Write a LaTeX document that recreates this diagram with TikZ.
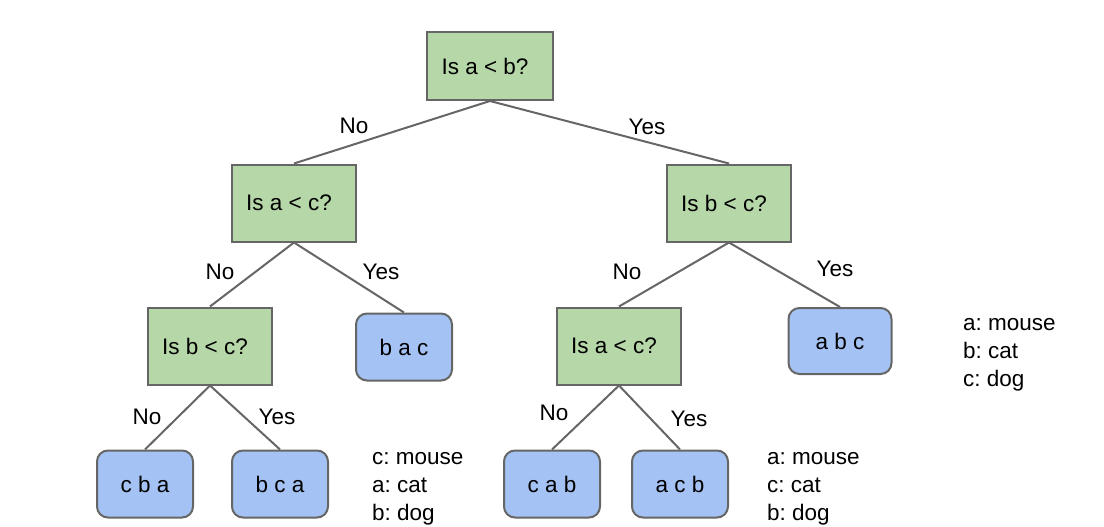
\documentclass[tikz,border=0pt]{standalone}
\usepackage{fontspec}
\setmainfont{Liberation Sans}
\definecolor{qgreen}{HTML}{B6D7A8}
\definecolor{qblue}{HTML}{A4C2F4}
\definecolor{edgegray}{HTML}{666666}
\frenchspacing
\begin{document}
\begin{tikzpicture}[x=1pt,y=-1pt,
  every node/.style={font=\fontsize{22.5}{28}\selectfont},
  qbox/.style={draw=edgegray,line width=2pt,fill=qgreen,minimum width=124pt,minimum height=77pt,inner sep=0pt,execute at end node={\hspace{10pt}}},
  leaf/.style={draw=edgegray,line width=2pt,fill=qblue,rounded corners=11pt,minimum width=96pt,minimum height=67pt,inner sep=0pt},
  conn/.style={draw=edgegray,line width=2pt},
  lbl/.style={inner sep=0pt},
  legend/.style={align=left,anchor=north west,inner sep=0pt}]
\useasboundingbox (0,0) rectangle (1104,527);
\node[qbox,minimum width=126pt,minimum height=68pt] (root) at (490,66) {Is a < b?};
\node[qbox] (ac1) at (294,203) {Is a < c?};
\node[qbox] (bc1) at (729,203) {Is b < c?};
\node[qbox] (bc2) at (210,346) {Is b < c?};
\node[leaf] (bac) at (404,347) {b a c};
\node[qbox] (ac2) at (619,346) {Is a < c?};
\node[leaf,minimum width=103pt,minimum height=66pt] (abc) at (840,341) {a b c};
\node[leaf] (cba) at (145,484) {c b a};
\node[leaf] (bca) at (280,484) {b c a};
\node[leaf] (cab) at (552,484) {c a b};
\node[leaf] (acb) at (680,484) {a c b};
\draw[conn] (root.south) -- (ac1.north);
\draw[conn] (root.south) -- (bc1.north);
\draw[conn] (ac1.south) -- (bc2.north);
\draw[conn] (ac1.south) -- (bac.north);
\draw[conn] (bc1.south) -- (ac2.north);
\draw[conn] (bc1.south) -- (abc.north);
\draw[conn] (bc2.south) -- (cba.north);
\draw[conn] (bc2.south) -- (bca.north);
\draw[conn] (ac2.south) -- (cab.north);
\draw[conn] (ac2.south) -- (acb.north);
\node[lbl] (l1) at (354,126) {No};
\node[lbl] (l2) at (647,127) {Yes};
\node[lbl] (l3) at (220,272) {No};
\node[lbl] (l4) at (381,272) {Yes};
\node[lbl] (l5) at (627,272) {No};
\node[lbl] (l6) at (835,269) {Yes};
\node[lbl] (l7) at (147,417) {No};
\node[lbl] (l8) at (277,417) {Yes};
\node[lbl] (l9) at (554,413) {No};
\node[lbl] (l10) at (689,419) {Yes};
\node[legend] (g1) at (963,318) {a: mouse\\b: cat\\c: dog};
\node[legend] (g2) at (372,452) {c: mouse\\a: cat\\b: dog};
\node[legend] (g3) at (767,452) {a: mouse\\c: cat\\b: dog};
\end{tikzpicture}
\end{document}
